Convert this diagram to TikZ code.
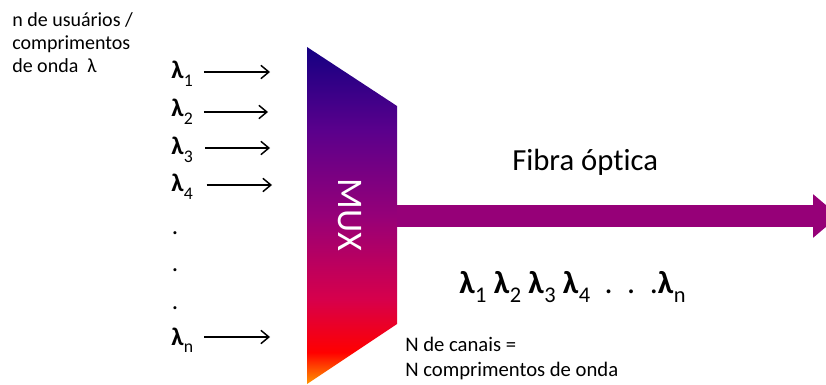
\documentclass[tikz,border=0pt]{standalone}
\usepackage{fontspec}
\setmainfont{Carlito}[Ligatures=NoCommon]
\usepackage{tikz}
\usetikzlibrary{positioning,arrows.meta}

\definecolor{muxnavy}{RGB}{20,0,130}
\definecolor{muxviolet}{RGB}{90,0,140}
\definecolor{muxpurple}{RGB}{150,0,120}
\definecolor{muxcrimson}{RGB}{215,0,75}
\definecolor{muxred}{RGB}{255,0,0}
\definecolor{muxorange}{RGB}{255,150,0}
\pgfdeclareverticalshading{muxgrad}{100bp}{color(0bp)=(muxorange); color(25bp)=(muxorange); color(29.7bp)=(muxred); color(37.5bp)=(muxcrimson); color(50bp)=(muxpurple); color(62.7bp)=(muxviolet); color(75bp)=(muxnavy); color(100bp)=(muxnavy)}

\newcommand{\lam}[1]{\textbf{λ}\kern0.3pt\raisebox{-0.3em}{\scalebox{0.7}{#1}}}

\begin{document}
\begin{tikzpicture}[x=0.75pt,y=0.75pt,yscale=-1,xscale=1,
    lamtext/.style={anchor=base west,inner sep=0pt,font=\fontsize{19}{19}\selectfont},
    lamdot/.style={anchor=base,inner sep=0pt,font=\fontsize{19}{19}\selectfont},
    lamarrow/.style={line width=1.1pt,-{Straight Barb[length=6pt,width=10pt]}},
    fibre/.style={draw=muxpurple,line width=16.5pt,-{Triangle[length=19.5pt,width=31.5pt]}}]
        \clip (0,0) rectangle (826,385);

        %Shape: Trapezoid [id:mux]
        \shade[shading=muxgrad] (307,47) -- (397,106) -- (397,324) -- (307,384) -- cycle ;
        % Text Node
        \draw (350,215) node (muxlabel) [rotate=-90,text=white,font=\fontsize{27}{27}\selectfont] {MUX};

        %Straight Lines [id:fibre]
        \coordinate (muxout) at (397,216);
        \coordinate (fibreend) at (839,216);
        \draw [fibre] (muxout) -- (fibreend) ;

        % Text Node
        \draw (12,12) node (users) [anchor=north west,inner sep=0pt,align=left,font=\fontsize{15}{17.25}\selectfont] {n de usuários /\\comprimentos\\de onda\ \ λ};

        % Text Node
        \draw (171,79) node (l1) [lamtext] {\lam{1}};
        \draw (171,117) node (l2) [lamtext] {\lam{2}};
        \draw (171,155) node (l3) [lamtext] {\lam{3}};
        \draw (171,192) node (l4) [lamtext] {\lam{4}};
        \draw (175,234) node (d1) [lamdot] {.};
        \draw (175,272) node (d2) [lamdot] {.};
        \draw (175,309) node (d3) [lamdot] {.};
        \draw (171,345) node (ln) [lamtext] {\lam{n}};

        %Straight Lines [id:inputs]
        \coordinate (a1) at (270,72);
        \coordinate (a2) at (268,112);
        \coordinate (a3) at (270,148);
        \coordinate (a4) at (272,185);
        \coordinate (an) at (270,337);
        \draw [lamarrow] ([xshift=8pt]l1.east |- a1) -- (a1) ;
        \draw [lamarrow] ([xshift=8pt]l2.east |- a2) -- (a2) ;
        \draw [lamarrow] ([xshift=9pt]l3.east |- a3) -- (a3) ;
        \draw [lamarrow] ([xshift=10pt]l4.east |- a4) -- (a4) ;
        \draw [lamarrow] ([xshift=8pt]ln.east |- an) -- (an) ;

        % Text Node
        \draw (512,171) node (fibrelabel) [anchor=base west,inner sep=0pt,font=\fontsize{23}{23}\selectfont] {Fibra óptica};
        % Text Node
        \draw (459,293) node (chans) [anchor=base west,inner sep=0pt,font=\fontsize{24}{24}\selectfont] {\lam{1} \lam{2} \lam{3} \lam{4}\ \ .\ \ .\ \ .\lam{n}};
        % Text Node
        \draw (405,337) node (count) [anchor=north west,inner sep=0pt,align=left,font=\fontsize{15.5}{18.5}\selectfont] {N de canais =\\N comprimentos de onda};
\end{tikzpicture}
\end{document}
